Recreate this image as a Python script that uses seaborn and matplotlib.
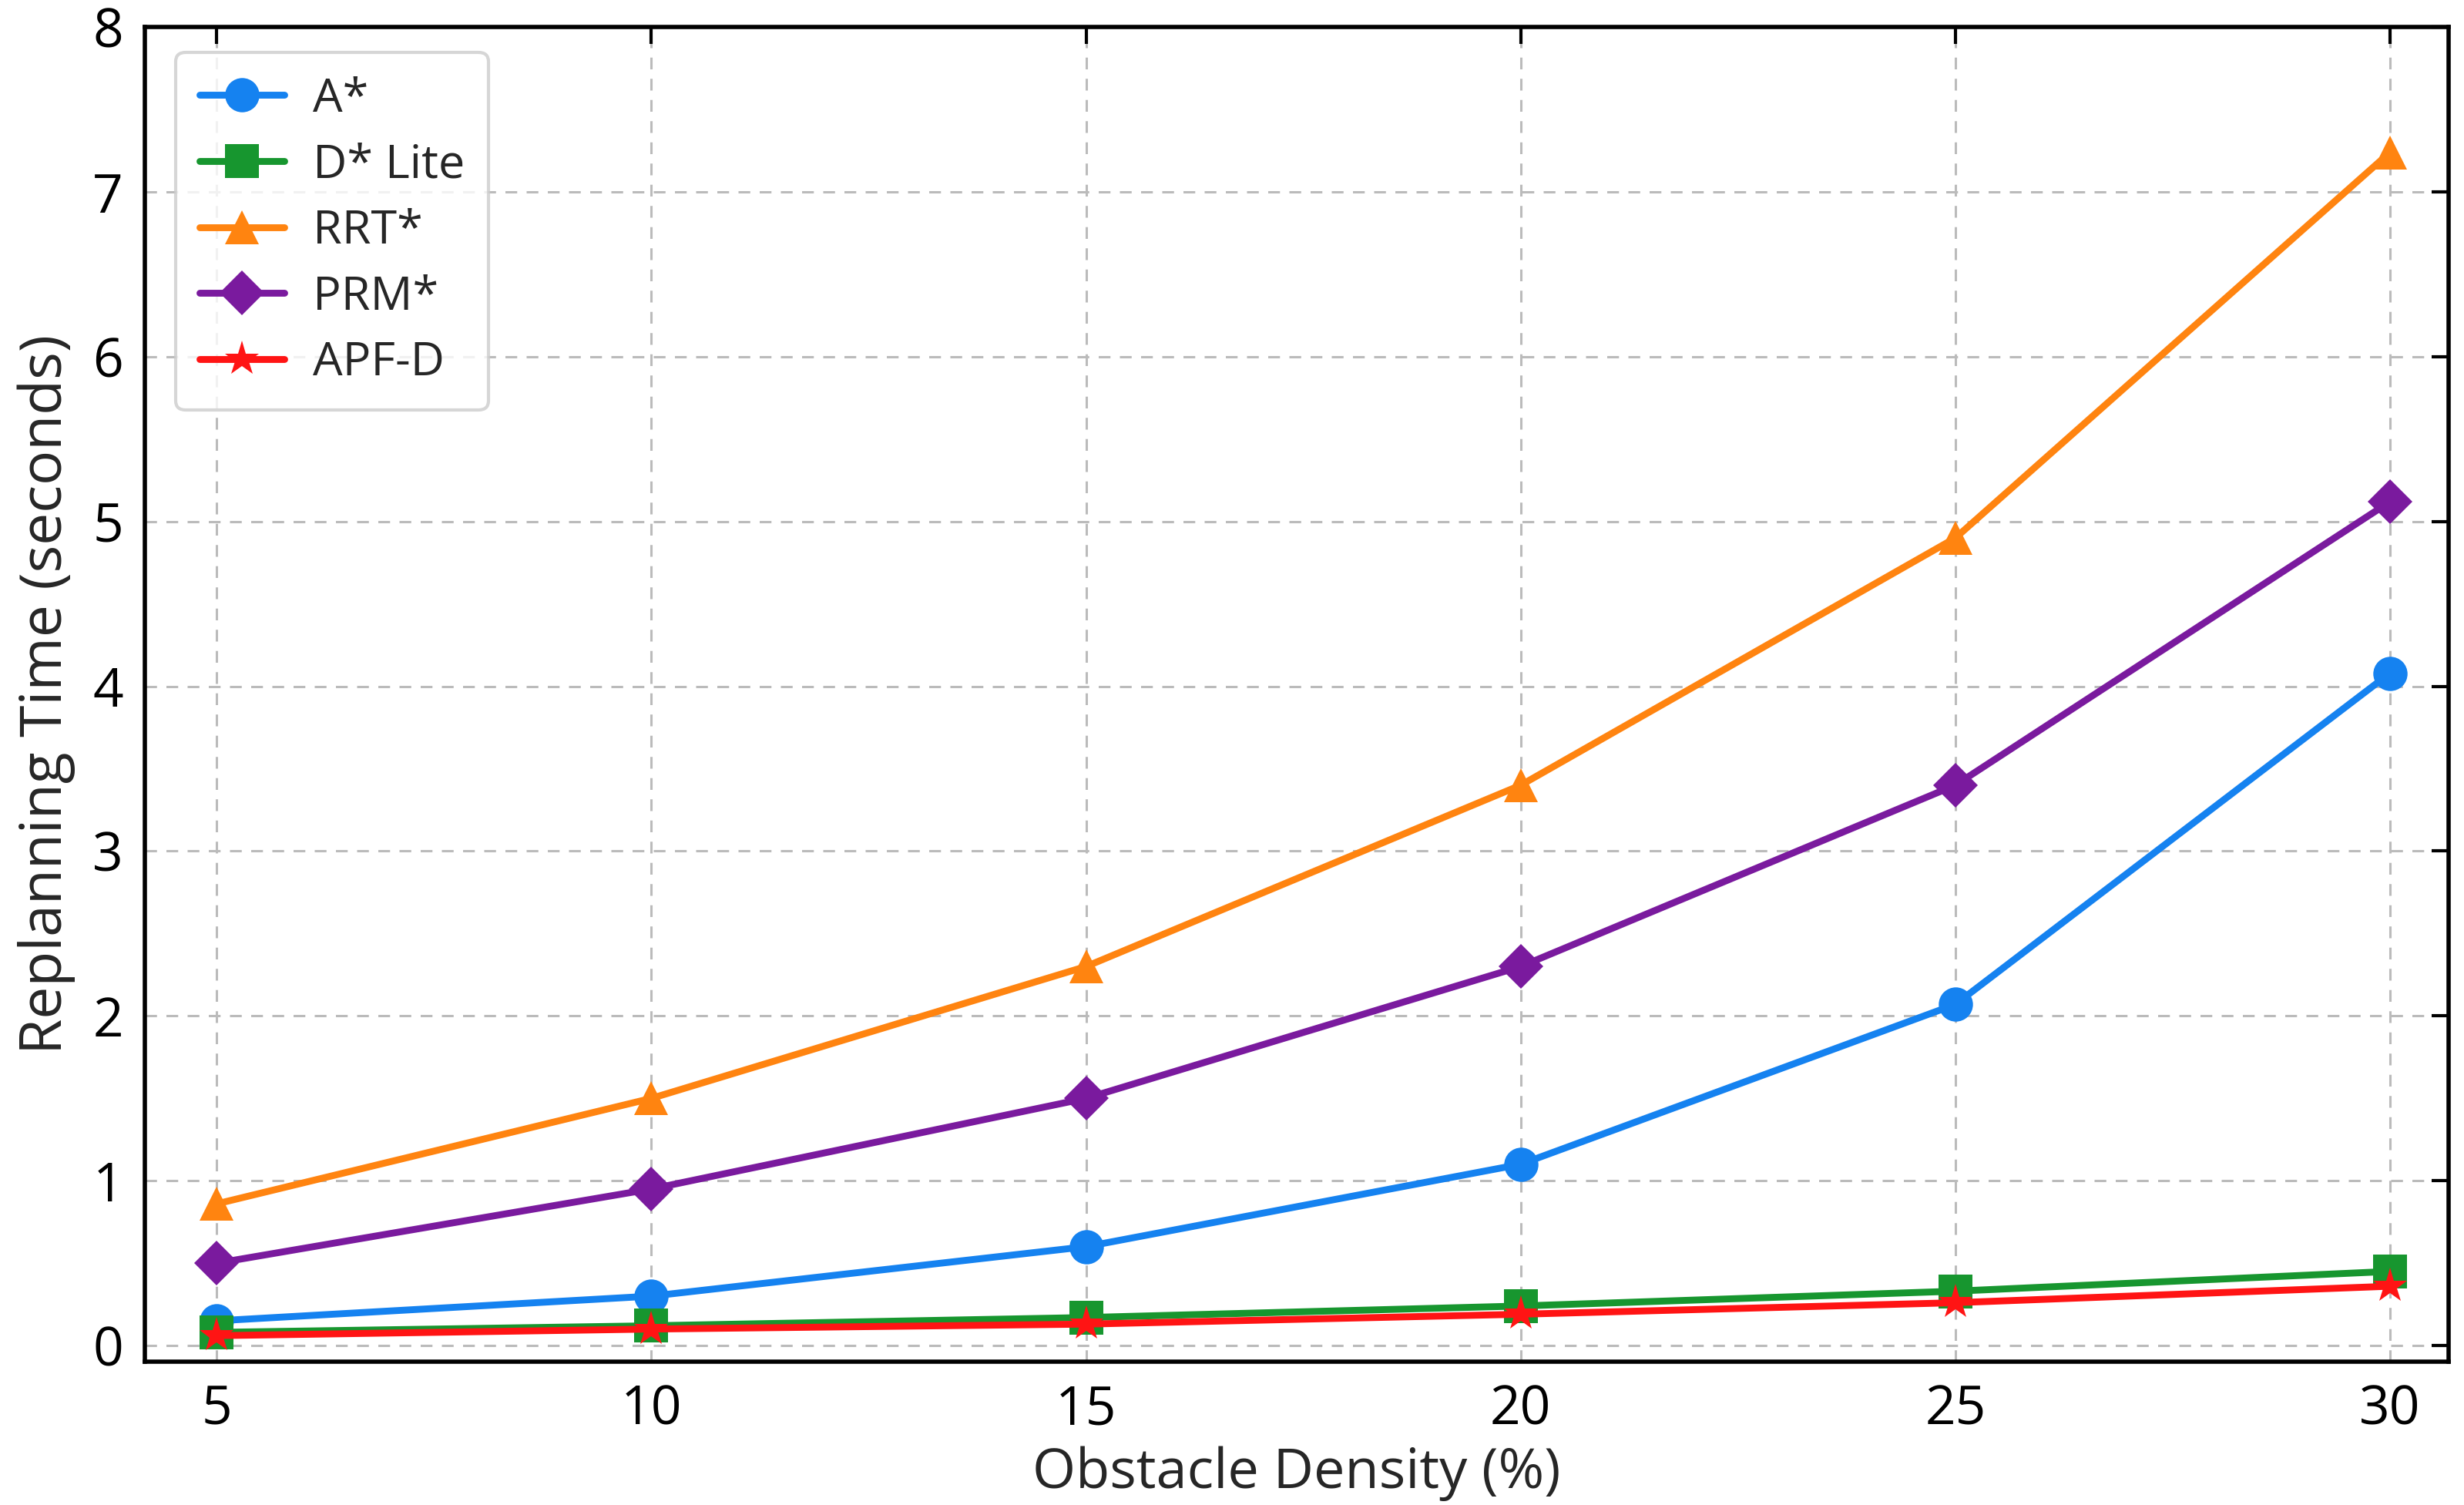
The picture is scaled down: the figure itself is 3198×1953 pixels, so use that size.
import pandas as pd
import seaborn as sns
import matplotlib.pyplot as plt

density = [5, 10, 15, 20, 25, 30]

a_star = [0.15, 0.30, 0.60, 1.10, 2.07, 4.08]
d_star_lite = [0.08, 0.12, 0.17, 0.24, 0.33, 0.45]
rrt_star = [0.86, 1.50, 2.30, 3.40, 4.90, 7.24]
prm_star = [0.50, 0.95, 1.50, 2.30, 3.40, 5.12]
apf_d = [0.06, 0.10, 0.13, 0.19, 0.26, 0.36]

names = ['A*', 'D* Lite', 'RRT*', 'PRM*', 'APF-D']
colors = ['#1582f0', '#17962f', '#ff8410', '#7a1a9e', '#ff1414']
markers = ['o', 's', '^', 'D', '*']

df = pd.DataFrame({
    'density': density * 5,
    'time': a_star + d_star_lite + rrt_star + prm_star + apf_d,
    'method': [n for n in names for _ in density],
})

sns.set_theme(style='white')
plt.rcParams['font.family'] = ['Open Sans', 'DejaVu Sans']

fig = plt.figure(figsize=(15.99, 9.765), dpi=200)
ax = fig.add_axes([0.0587, 0.095, 0.9349, 0.887])

for name, c, m in zip(names, colors, markers):
    sub = df[df.method == name]
    ms = 17 if m == '*' else (15 if m == 'D' else 16)
    sns.lineplot(data=sub, x='density', y='time', ax=ax, color=c, marker=m,
                 markersize=ms, markeredgewidth=0, linewidth=3.2, label=name)

ax.set_xlim(4.17, 30.67)
ax.set_ylim(-0.1, 8)
ax.set_xticks(density)
ax.set_yticks(range(0, 9))
ax.grid(True, linestyle=(0, (5, 4)), color='#bbbbbb', linewidth=1.1)
ax.tick_params(direction='in', length=8, width=1.5, top=True, right=True,
               labelsize=25, pad=10, colors='black')
for s in ax.spines.values():
    s.set_linewidth(2)
    s.set_color('black')

ax.set_xlabel('Obstacle Density (%)', fontsize=26, labelpad=4)
ax.set_ylabel('Replanning Time (seconds)', fontsize=27, labelpad=8)

leg = ax.legend(loc='upper left', fontsize=22, frameon=True, fancybox=True,
                borderpad=0.5, labelspacing=0.42, handlelength=1.8,
                handletextpad=0.6, borderaxespad=0,
                bbox_to_anchor=(0.0136, 0.981))
leg.get_frame().set_edgecolor('#cccccc')
leg.get_frame().set_linewidth(1.5)

fig.savefig('out.png', dpi=200)
